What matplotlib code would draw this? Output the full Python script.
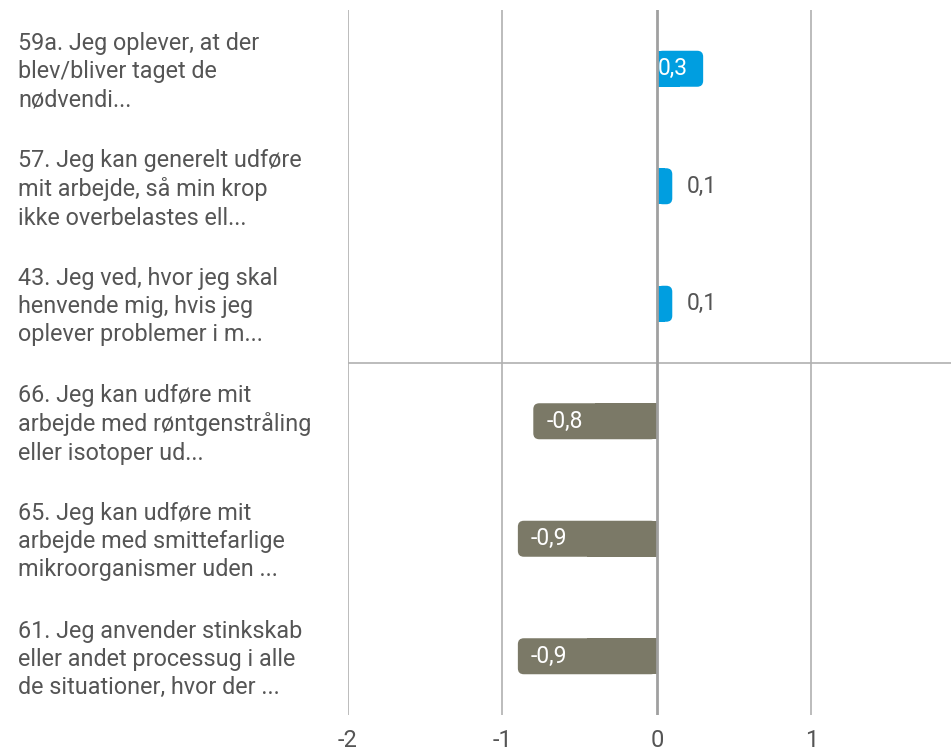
import matplotlib.pyplot as plt
from matplotlib.patches import FancyBboxPatch, Rectangle

plt.rcParams['font.family'] = ['Roboto', 'DejaVu Sans']

categories = [
    "59a. Jeg oplever, at der\nblev/bliver taget de\nnødvendi...",
    "57. Jeg kan generelt udføre\nmit arbejde, så min krop\nikke overbelastes ell...",
    "43. Jeg ved, hvor jeg skal\nhenvende mig, hvis jeg\noplever problemer i m...",
    "66. Jeg kan udføre mit\narbejde med røntgenstråling\neller isotoper ud...",
    "65. Jeg kan udføre mit\narbejde med smittefarlige\nmikroorganismer uden ...",
    "61. Jeg anvender stinkskab\neller andet processug i alle\nde situationer, hvor der ...",
]
values = [0.3, 0.1, 0.1, -0.8, -0.9, -0.9]
value_labels = ["0,3", "0,1", "0,1", "-0,8", "-0,9", "-0,9"]
x_ticks = [-2, -1, 0, 1]

BLUE = '#009ee0'
OLIVE = '#7b7967'
TEXT = '#555555'
GRID = '#b0b0b0'

fig = plt.figure(figsize=(9.51, 7.51), dpi=100)
ax = fig.add_axes([348 / 951, 36 / 751, 603 / 951, 705 / 751])
xmin, xmax = -2, 1.905
ax.set_xlim(xmin, xmax)
ax.set_ylim(len(values) - 0.5, -0.5)

# pixel scale so rounded corners look round
px_x = 603 / (xmax - xmin)
px_y = 705 / len(values)
aspect = px_x / px_y
radius = 6 / px_x
bar_h = 36 / px_y

for x in x_ticks:
    if x == 0:
        continue
    ax.axvline(x, color=GRID, lw=1.2, zorder=1)
ax.axhline(2.5, color=GRID, lw=1.2, zorder=1)

for i, (v, lab) in enumerate(zip(values, value_labels)):
    color = BLUE if v > 0 else OLIVE
    ax.add_patch(FancyBboxPatch((min(0, v), i - bar_h / 2), abs(v), bar_h,
                                boxstyle=f"round,pad=0,rounding_size={radius}",
                                mutation_aspect=aspect, fc=color, ec='none',
                                zorder=2))
    # square off the end at zero
    ax.add_patch(Rectangle((0, i - bar_h / 2), v / 2, bar_h, fc=color,
                           ec='none', zorder=2))
    pad = 10 / px_x
    if v < 0:
        ax.text(v + pad * 1.3, i, lab, ha='left', va='center', color='white',
                fontsize=16.5, zorder=4)
    elif v >= 0.2:
        ax.text(0.005, i, lab, ha='left', va='center', color='white',
                fontsize=16.5, zorder=4)
    else:
        ax.text(v + pad * 1.4, i, lab, ha='left', va='center', color=TEXT,
                fontsize=16.5, zorder=4)

ax.axvline(0, color='#a0a0a0', lw=2, zorder=3)

ax.set_xticks(x_ticks)
ax.set_xticklabels([str(t) for t in x_ticks])
ax.tick_params(axis='x', length=0, pad=10, labelsize=17, labelcolor=TEXT)
ax.set_yticks(range(len(values)))
ax.set_yticklabels([])
ax.tick_params(axis='y', length=0)
for i, cat in enumerate(categories):
    ax.text(18, ax.transData.transform((0, i))[1] - 3, cat,
            transform=None, ha='left', va='center', fontsize=16.8,
            color=TEXT, linespacing=1.29)
for s in ax.spines.values():
    s.set_visible(False)

fig.savefig('out.png', dpi=100)
